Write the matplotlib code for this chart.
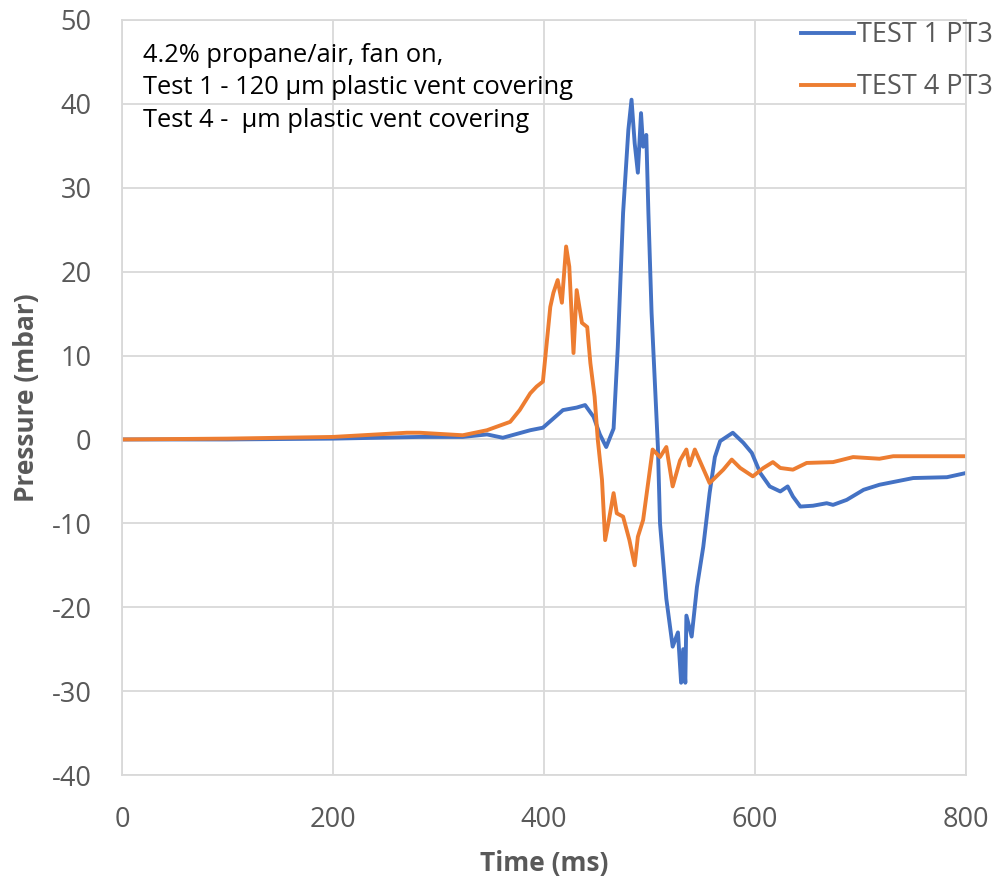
import numpy as np
import matplotlib.pyplot as plt

# Test 1 PT3 (blue) - time in ms, pressure in mbar
t1 = [0, 100, 200, 282, 323, 346, 361, 387, 399, 418, 431, 439, 447, 453, 459, 466,
      470, 475, 480, 483, 486, 489, 492, 494, 497, 499, 502, 505, 508, 510, 516, 522,
      527, 530, 532, 534, 535, 540, 545, 551, 557, 562, 567, 573, 579, 589, 597, 605,
      614, 624, 631, 636, 643, 655, 668, 674, 687, 703, 718, 750, 782, 800]
p1 = [0.0, 0.0, 0.1, 0.3, 0.3, 0.6, 0.2, 1.1, 1.4, 3.5, 3.8, 4.1, 2.7, 0.6, -0.9, 1.3,
      11, 27, 36.9, 40.5, 35.3, 31.8, 38.9, 34.9, 36.3, 27, 15.1, 7.1, -0.9, -10, -19, -24.7,
      -23, -29, -25, -29, -21, -23.5, -17.6, -12.8, -6.4, -2.1, -0.2, 0.3, 0.8, -0.4, -1.6, -4.0,
      -5.6, -6.2, -5.6, -6.8, -8.0, -7.9, -7.6, -7.8, -7.2, -6.0, -5.4, -4.6, -4.5, -4.0]

# Test 4 PT3 (orange)
t4 = [0, 100, 200, 270, 282, 323, 346, 368, 377, 387, 393, 399, 406, 409, 413, 417,
      421, 424, 428, 431, 436, 441, 444, 448, 451, 455, 458, 461, 466, 469, 475, 481,
      486, 489, 494, 500, 503, 510, 516, 522, 529, 535, 538, 543, 557, 570, 578, 586,
      598, 608, 617, 624, 636, 649, 674, 693, 718, 731, 800]
p4 = [0.0, 0.1, 0.3, 0.8, 0.8, 0.5, 1.1, 2.1, 3.5, 5.5, 6.3, 6.9, 15.8, 17.5, 19, 16.3,
      23, 20.6, 10.3, 17.8, 13.9, 13.4, 9.1, 5.1, 0.0, -4.8, -12, -10, -6.4, -8.8, -9.2, -12,
      -15, -11.6, -9.6, -4, -1.2, -2.1, -0.9, -5.6, -2.5, -1.2, -3.1, -1.2, -5.2, -3.6, -2.4, -3.4,
      -4.4, -3.4, -2.7, -3.4, -3.6, -2.8, -2.7, -2.1, -2.3, -2.0, -2.0]

blue = '#4472C4'
orange = '#ED7D31'
grey = '#595959'
plt.rcParams['font.family'] = ['Open Sans', 'DejaVu Sans']
plt.rcParams['axes.unicode_minus'] = False

fig = plt.figure(figsize=(9.98, 8.81), dpi=100)
ax = fig.add_axes([0.1222, 0.1203, 0.8457, 0.8570])

l1, = ax.plot(t1, p1, color=blue, lw=2.8, label='TEST 1 PT3')
l4, = ax.plot(t4, p4, color=orange, lw=2.8, label='TEST 4 PT3')

ax.set_xlim(0, 800)
ax.set_ylim(-40, 50)
ax.set_xticks(np.arange(0, 801, 200))
ax.set_yticks(np.arange(-40, 51, 10))
ax.grid(True, color='#d9d9d9', lw=1.3)
ax.set_axisbelow(True)
for s in ax.spines.values():
    s.set_color('#d9d9d9')
    s.set_linewidth(1.3)
ax.tick_params(length=0, labelsize=19.5, colors=grey)
ax.tick_params(axis='y', pad=22)
ax.tick_params(axis='x', pad=22)
ax.set_xlabel('Time (ms)', fontsize=19, fontweight='bold', color=grey, labelpad=12)
ax.set_ylabel('Pressure (mbar)', fontsize=19, fontweight='bold', color=grey, labelpad=8)

note = ('4.2% propane/air, fan on,\n'
        'Test 1 - 120 \u00b5m plastic vent covering\n'
        'Test 4 -  \u00b5m plastic vent covering')
fig.text(143 / 998, 1 - 88 / 881, note, fontsize=18.4, color='black',
         va='center', ha='left', linespacing=1.38)

fig.legend(handles=[l1, l4], loc='upper right', bbox_to_anchor=(993 / 998, 1 - 21 / 881),
           frameon=False, fontsize=19.5, labelcolor=grey, handlelength=1.95,
           handletextpad=0.12, labelspacing=0.9, borderaxespad=0.0, borderpad=0.0)

fig.savefig('out.png', dpi=100)
